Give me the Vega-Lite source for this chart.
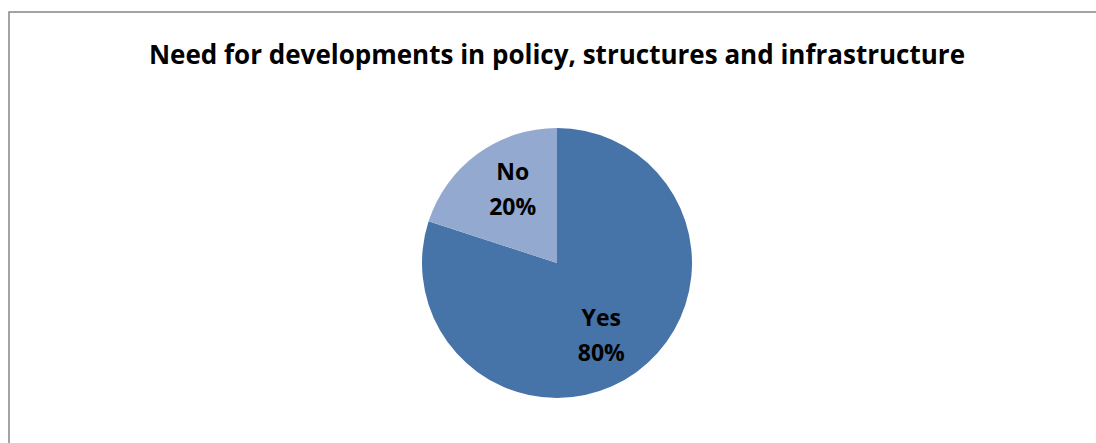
{
  "$schema": "https://vega.github.io/schema/vega-lite/v6.json",
  "autosize": {"type": "fit", "contains": "padding"},
  "width": 1096,
  "height": 443,
  "padding": {"left": 9, "top": 12, "right": -9, "bottom": -71},
  "background": "white",
  "view": {"stroke": "#878787", "strokeWidth": 1.5},
  "config": {
    "font": "Open Sans"
  },
  "title": {
    "text": "Need for developments in policy, structures and infrastructure",
    "font": "Open Sans",
    "fontSize": 26,
    "fontWeight": "bold",
    "color": "#000000",
    "anchor": "middle",
    "baseline": "top",
    "offset": -57
  },
  "data": {
    "values": [
      {"answer": "Yes", "share": 80, "order": 1},
      {"answer": "No", "share": 20, "order": 2}
    ]
  },
  "transform": [
    {"calculate": "datum.answer + '\\n' + datum.share + '%'", "as": "label"}
  ],
  "encoding": {
    "theta": {"field": "share", "type": "quantitative", "stack": true},
    "order": {"field": "order", "type": "quantitative"},
    "color": {
      "field": "answer",
      "type": "nominal",
      "scale": {"domain": ["Yes", "No"], "range": ["#4673A8", "#93A9CF"]},
      "legend": null
    }
  },
  "layer": [
    {"mark": {"type": "arc", "outerRadius": 135, "stroke": "white", "strokeWidth": 0}},
    {
      "mark": {"type": "text", "radius": 85, "thetaOffset": 0.08, "dy": -17, "font": "Open Sans", "fontSize": 23, "fontWeight": "bold", "lineBreak": "\n", "lineHeight": 35, "fill": "#000000"},
      "encoding": {"text": {"field": "label"}, "color": {"value": "#000000"}}
    }
  ]
}
